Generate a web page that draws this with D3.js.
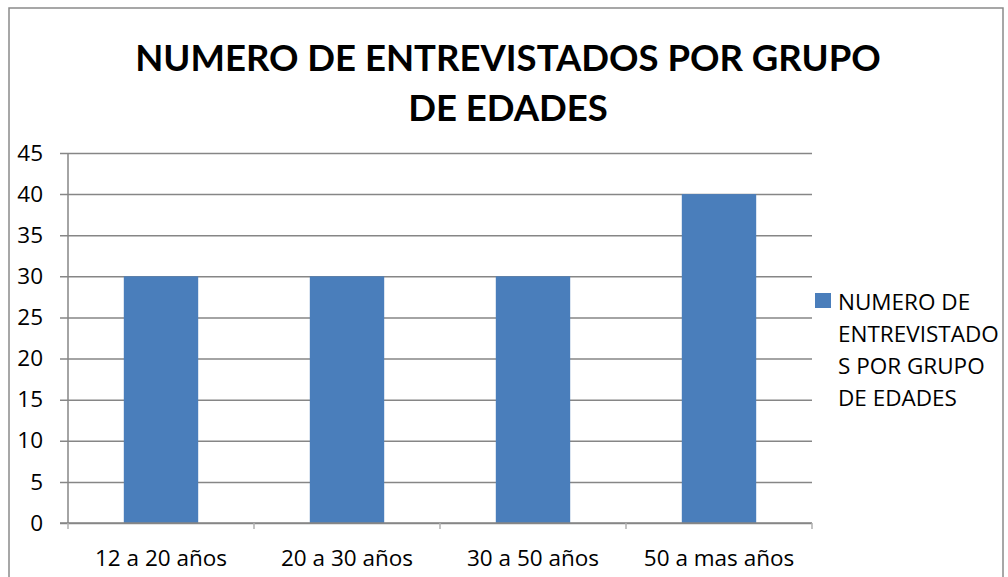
<!DOCTYPE html>
<html>
<head>
<meta charset="utf-8">
<script src="https://cdn.jsdelivr.net/npm/d3@7"></script>
<style>
  body { margin: 0; background: #fff; }
  svg { display: block; font-family: "Open Sans", Lato, sans-serif; }
</style>
</head>
<body>
<svg width="1008" height="577"></svg>
<script>
// data
const categories = ["12 a 20 años", "20 a 30 años", "30 a 50 años", "50 a mas años"];
const values = [30, 30, 30, 40];
const yTicks = [0, 5, 10, 15, 20, 25, 30, 35, 40, 45];
const titleLines = ["NUMERO DE ENTREVISTADOS POR GRUPO", "DE EDADES"];
const legendLines = ["NUMERO DE", "ENTREVISTADO", "S POR GRUPO", "DE EDADES"];

const svg = d3.select("svg");
const plot = {left: 68, right: 812, top: 153, bottom: 523};
const barColor = "#4a7ebb";
const gridColor = "#868686";
const labelFont = "'Open Sans', sans-serif";
const labelSize = 22.5;

// outer frame
svg.append("rect")
  .attr("x", 9).attr("y", 8)
  .attr("width", 994).attr("height", 580)
  .attr("fill", "none")
  .attr("stroke", "#8a8a8a")
  .attr("stroke-width", 1.5);

const x = d3.scaleBand()
  .domain(categories)
  .range([plot.left, plot.right])
  .paddingInner(0.6)
  .paddingOuter(0.3);

const y = d3.scaleLinear()
  .domain([0, 45])
  .range([plot.bottom, plot.top]);

// gridlines + y labels
const yAxis = svg.append("g")
  .attr("transform", `translate(${plot.left},0)`)
  .call(d3.axisLeft(y).tickValues(yTicks).tickSize(8).tickPadding(17));
yAxis.select(".domain").attr("stroke", gridColor).attr("stroke-width", 1.5)
  .attr("d", `M0,${plot.top}V${plot.bottom}`);
yAxis.selectAll(".tick line").attr("stroke", gridColor).attr("stroke-width", 1.5)
  .attr("x1", -8).attr("x2", plot.right - plot.left);
yAxis.selectAll(".tick text")
  .attr("font-size", labelSize)
  .attr("fill", "#000")
  .attr("font-family", labelFont);

// bars
svg.append("g").selectAll("rect")
  .data(values)
  .join("rect")
  .attr("x", (d, i) => x(categories[i]))
  .attr("y", d => y(d))
  .attr("width", x.bandwidth())
  .attr("height", d => y(0) - y(d))
  .attr("fill", barColor);

// x axis
const xAxis = svg.append("g")
  .attr("transform", `translate(0,${plot.bottom})`)
  .call(d3.axisBottom(x).tickSize(0).tickPadding(27));
xAxis.select(".domain").attr("stroke", gridColor).attr("stroke-width", 1.5)
  .attr("d", `M${plot.left - 8},0H${plot.right}`);
xAxis.selectAll(".tick text")
  .attr("font-size", labelSize)
  .attr("fill", "#000")
  .attr("font-family", labelFont);
// category separators
svg.append("g").selectAll("line")
  .data(d3.range(categories.length + 1))
  .join("line")
  .attr("x1", i => plot.left + i * (plot.right - plot.left) / categories.length)
  .attr("x2", i => plot.left + i * (plot.right - plot.left) / categories.length)
  .attr("y1", plot.bottom)
  .attr("y2", plot.bottom + 6)
  .attr("stroke", "#b0b0b0")
  .attr("stroke-width", 1.5);

// title
svg.append("text")
  .attr("text-anchor", "middle")
  .attr("font-weight", "bold")
  .attr("font-size", 36.5)
  .attr("font-family", "Lato, sans-serif")
  .attr("fill", "#000")
  .selectAll("tspan")
  .data(titleLines)
  .join("tspan")
  .attr("x", 508)
  .attr("y", (d, i) => 71 + i * 50)
  .text(d => d);

// legend
svg.append("rect")
  .attr("x", 815).attr("y", 293)
  .attr("width", 16).attr("height", 15)
  .attr("fill", barColor);
svg.append("text")
  .attr("font-size", labelSize)
  .attr("font-family", labelFont)
  .attr("fill", "#000")
  .selectAll("tspan")
  .data(legendLines)
  .join("tspan")
  .attr("x", 838)
  .attr("y", (d, i) => 310 + i * 32)
  .text(d => d);
</script>
</body>
</html>
